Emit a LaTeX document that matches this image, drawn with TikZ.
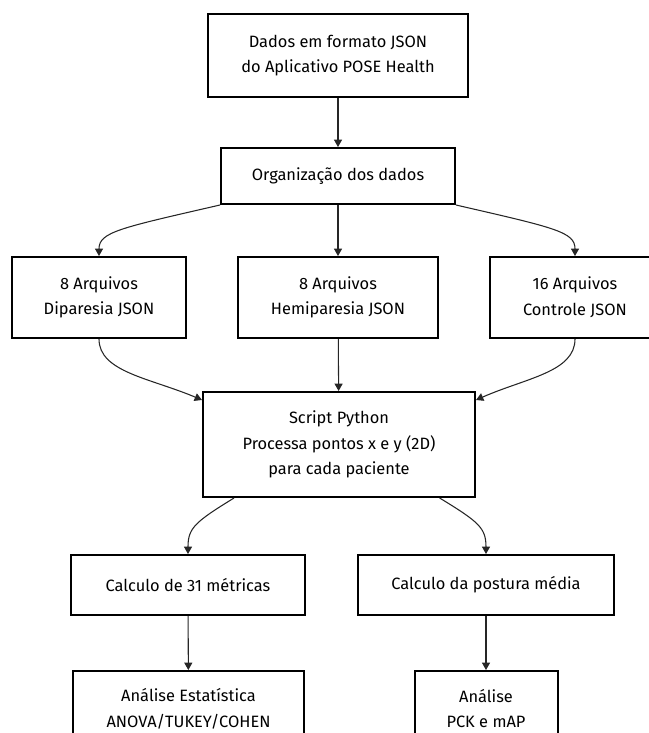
\documentclass[tikz,border=0pt]{standalone}
\usepackage{fontspec}
\setmainfont{Fira Sans}
\usepackage{tikz}
\usetikzlibrary{arrows.meta,positioning,calc}
\tikzstyle{box}=[rectangle, draw=black, line width=1.5pt, align=center, inner sep=2pt, font=\fontsize{12.3}{19.2}\selectfont]
\tikzstyle{flow}=[draw=black!85, line width=0.8pt, -{Triangle[length=5.5pt,width=6pt]}]

\begin{document}
\begin{tikzpicture}[x=0.75pt, y=-0.75pt]
        %
        \useasboundingbox (0,0) rectangle (649,733);
      \node at (338,55.5) [box, minimum width=195pt, minimum height=62.25pt] (dados) {Dados em formato JSON\\do Aplicativo POSE Health};
      \node at (338,176) [box, minimum width=175.5pt, minimum height=42pt] (org) {Organização dos dados};
      %
      \node at (99,297.5) [box, minimum width=130.5pt, minimum height=60.75pt] (dip) {8 Arquivos\\Diparesia JSON};
      \node at (338,297.5) [box, minimum width=150pt, minimum height=60.75pt] (hemi) {8 Arquivos\\Hemiparesia JSON};
      \node at (575,297.5) [box, minimum width=127.5pt, minimum height=60.75pt] (ctrl) {16 Arquivos\\Controle JSON};
      %
      \node at (339,444.5) [box, minimum width=204pt, minimum height=78.75pt] (script) {Script Python\\Processa pontos x e y (2D)\\para cada paciente};
      %
      \node at (188,585) [box, minimum width=175.5pt, minimum height=45pt] (metricas) {Calculo de 31 métricas};
      \node at (486,585) [box, minimum width=192pt, minimum height=45pt] (postura) {Calculo da postura média};
      \node at (188.5,708.5) [box, minimum width=173.25pt, minimum height=56.25pt] (estat) {Análise Estatística\\ANOVA/TUKEY/COHEN};
      \node at (486,708.5) [box, minimum width=107.25pt, minimum height=56.25pt] (pck) {Análise\\PCK e mAP};
      %
      \draw [flow] (dados) -- (org);
      \draw [flow] (org.south west) .. controls (120,228) and (99,232) .. (dip.north);
      \draw [flow] (org) -- (hemi);
      \draw [flow] (org.south east) .. controls (556,228) and (575,232) .. (ctrl.north);
      %
      \draw [flow] (dip.south) .. controls (99,372) and (150,378) .. (script.162);
      \draw [flow] (hemi) -- (script);
      \draw [flow] (ctrl.south) .. controls (575,372) and (526,378) .. (script.18);
      %
      \draw [flow] (script.207) .. controls (195,522) and (188,528) .. (metricas.north);
      \draw [flow] (script.332) .. controls (479,522) and (486,528) .. (postura.north);
      \draw [flow] (metricas) -- (estat);
      \draw [flow] (postura) -- (pck);
    \end{tikzpicture}
\end{document}
